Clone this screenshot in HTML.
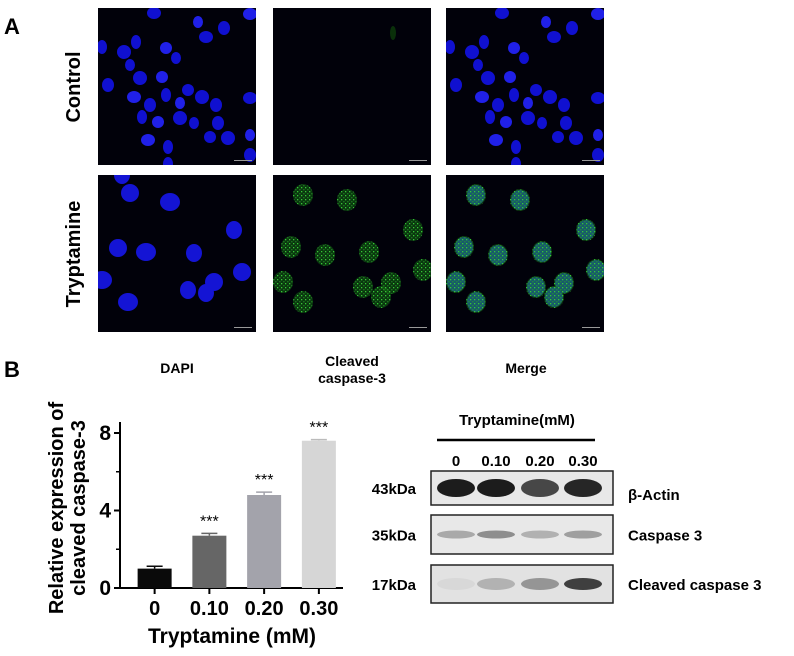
<!DOCTYPE html>
<html><head><meta charset="utf-8"><style>
html,body{margin:0;padding:0;background:#fff;}
body{width:794px;height:651px;overflow:hidden;position:relative;font-family:"Liberation Sans",Arial,sans-serif;}
svg text{font-family:"Liberation Sans",Arial,sans-serif;font-weight:bold;}
</style></head><body>
<svg id="fig" width="794" height="651" viewBox="0 0 794 651" xmlns="http://www.w3.org/2000/svg">
<defs>
<pattern id="speck" width="4" height="4" patternUnits="userSpaceOnUse">
<rect width="4" height="4" fill="rgba(20,110,20,0.5)"/>
<rect x="0" y="0" width="1.3" height="1.3" fill="#35c835"/>
<rect x="2.3" y="2.2" width="1.1" height="1.1" fill="#28a028"/>
</pattern>
</defs>
<text x="4" y="34" font-size="22">A</text>
<text x="4" y="377" font-size="22">B</text>
<text transform="translate(80,87) rotate(-90)" text-anchor="middle" font-size="20">Control</text>
<text transform="translate(80,254) rotate(-90)" text-anchor="middle" font-size="20">Tryptamine</text>
<g id="micro"></g>
<text x="177" y="373" text-anchor="middle" font-size="14">DAPI</text>
<text x="352" y="366" text-anchor="middle" font-size="14"><tspan x="352">Cleaved</tspan><tspan x="352" dy="17">caspase-3</tspan></text>
<text x="526" y="373" text-anchor="middle" font-size="14">Merge</text>
<g id="chart"></g>
<g id="blot"></g>
</svg>
<script>
// chart data
const categories = ["0", "0.10", "0.20", "0.30"];
const values = [1.0, 2.7, 4.8, 7.6];
const errors = [0.12, 0.12, 0.15, 0.06];
const barColors = ["#0a0a0a", "#666666", "#a3a3ab", "#d6d6d6"];
const yTicks = [0, 4, 8];
const stars = ["", "***", "***", "***"];

const NS = "http://www.w3.org/2000/svg";
function mk(tag, attrs, parent){const e=document.createElementNS(NS,tag);for(const k in attrs)e.setAttribute(k,attrs[k]);parent.appendChild(e);return e;}

// micrographs
const micro=document.getElementById('micro');
const cols=[98,273,446], rows=[8,175], pw=158, ph=157;
const ctrlNuc=[[100,14],[126,20],[108,29],[38,34],[68,40],[26,44],[32,57],[10,77],[36,89],[68,87],[90,82],[104,89],[82,95],[118,97],[152,90],[44,109],[60,114],[82,110],[96,115],[120,115],[50,132],[70,139],[112,129],[130,130],[152,127],[152,147],[56,5],[4,39],[64,69],[42,70],[78,50],[52,97],[152,6],[70,156]];
const tryNuc=[[24,0],[32,18],[72,27],[136,55],[20,73],[48,77],[96,78],[144,97],[4,105],[90,115],[116,107],[30,127],[108,118]];
const tryGreen=[[30,20],[74,25],[140,55],[18,72],[52,80],[96,77],[10,107],[90,112],[118,108],[108,122],[30,127],[150,95]];
rows.forEach((ry,ri)=>{cols.forEach((cx,ci)=>{
  const g=mk('g',{transform:`translate(${cx},${ry})`},micro);
  
  
  mk('rect',{x:0,y:0,width:pw,height:ph,fill:'#01010a'},g);
  const cp=mk('clipPath',{id:`c${ri}${ci}`},g);
  mk('rect',{x:0,y:0,width:pw,height:ph},cp);
  const inner=mk('g',{'clip-path':`url(#c${ri}${ci})`},g);
  if(ri===0){
    if(ci!==1) ctrlNuc.forEach((p,i)=>mk('ellipse',{cx:p[0],cy:p[1],rx:5+(i%3),ry:6+(i%2),fill:i%4?'#1010d0':'#2020e8'},inner));
    else mk('ellipse',{cx:120,cy:25,rx:3,ry:7,fill:'#0a300a'},inner);
  } else {
    if(ci===0) tryNuc.forEach((p,i)=>mk('ellipse',{cx:p[0],cy:p[1],rx:8+(i%3),ry:9,fill:'#1414d4'},inner));
    if(ci>=1) tryGreen.forEach((p,i)=>{
      if(ci===2) mk('ellipse',{cx:p[0],cy:p[1],rx:9,ry:10,fill:'#1a48c0'},inner);
      mk('ellipse',{cx:p[0],cy:p[1],rx:10,ry:11,fill:'url(#speck)'},inner);});
  }
  mk('rect',{x:pw-22,y:ph-5,width:18,height:1,fill:'#999'},g);
});});

// bar chart
const chart=document.getElementById('chart');
const x0=120,x1=343,yBase=588,yTop8=433;
const yScale=v=>yBase-(yBase-yTop8)*v/8;
const slotW=(x1-x0-10)/categories.length;
const xCenter=i=>x0+10+slotW*(i+0.5)+(i*1.5)-2;
mk('line',{x1:x0,y1:422,x2:x0,y2:yBase,stroke:'#000','stroke-width':2},chart);
mk('line',{x1:x0,y1:yBase,x2:x1,y2:yBase,stroke:'#000','stroke-width':2},chart);
yTicks.forEach(t=>{
  const y=yScale(t);
  mk('line',{x1:x0-6,y1:y,x2:x0,y2:y,stroke:'#000','stroke-width':2},chart);
  const tx=mk('text',{x:x0-9,y:y+7,'text-anchor':'end','font-size':21},chart);tx.textContent=t;
  
  
});
[2,6].forEach(t=>{const y=yScale(t);mk('line',{x1:x0-4,y1:y,x2:x0,y2:y,stroke:'#000','stroke-width':1.5},chart);});
categories.forEach((c,i)=>{
  const cx=xCenter(i),w=34;
  const r=mk('rect',{x:cx-w/2,y:yScale(values[i]),width:w,height:yBase-yScale(values[i]),fill:barColors[i]},chart);
  
  
  const ye=yScale(values[i]+errors[i]);
  mk('line',{x1:cx,y1:ye,x2:cx,y2:yScale(values[i]),stroke:barColors[i],'stroke-width':1.5},chart);
  mk('line',{x1:cx-8,y1:ye,x2:cx+8,y2:ye,stroke:barColors[i]==='#d6d6d6'?'#bbb':barColors[i],'stroke-width':1.5},chart);
  mk('line',{x1:cx,y1:yBase,x2:cx,y2:yBase+6,stroke:'#000','stroke-width':2},chart);
  if(stars[i]){const s=mk('text',{x:cx,y:ye-7,'text-anchor':'middle','font-size':16},chart);s.textContent=stars[i];s.style.fontWeight='normal';
    
    }
  const l=mk('text',{x:cx,y:615,'text-anchor':'middle','font-size':20},chart);l.textContent=c;
  
  
});
const xt=mk('text',{x:232,y:643,'text-anchor':'middle','font-size':21},chart);xt.textContent='Tryptamine (mM)';


const yt=mk('text',{transform:'translate(63,508) rotate(-90)','text-anchor':'middle','font-size':20},chart);


const t1=mk('tspan',{x:0,y:0},yt);t1.textContent='Relative expression of';
const t2=mk('tspan',{x:0,y:22},yt);t2.textContent='cleaved caspase-3';

// western blot
const blot=document.getElementById('blot');
const lanes=["0","0.10","0.20","0.30"];
const laneX=[456,496,540,583];
const tt=mk('text',{x:517,y:425,'text-anchor':'middle','font-size':15},blot);tt.textContent='Tryptamine(mM)';


mk('line',{x1:437,y1:440,x2:595,y2:440,stroke:'#000','stroke-width':2.5},blot);
lanes.forEach((l,i)=>{const t=mk('text',{x:laneX[i],y:466,'text-anchor':'middle','font-size':15},blot);t.textContent=l;
  
  });
const boxes=[[471,505,'43kDa','β-Actin',[0.95,0.95,0.75,0.9],9,'#111'],[515,554,'35kDa','Caspase 3',[0.35,0.5,0.3,0.4],4,'#333'],[565,603,'17kDa','Cleaved caspase 3',[0.05,0.25,0.4,0.85],6,'#222']];
boxes.forEach((b,bi)=>{
  const g=mk('g',{},blot);
  
  
  mk('rect',{x:431,y:b[0],width:182,height:b[1]-b[0],fill:bi===2?'#e2e2e2':'#e8e8e8',stroke:'#222','stroke-width':1.5},g);
  const cy=bi===0?(b[0]+17):(b[0]+b[1])/2;
  laneX.forEach((x,i)=>{
    mk('ellipse',{cx:x,cy:cy,rx:19,ry:b[5],fill:b[6],opacity:b[4][i]},g);
  });
  const k=mk('text',{x:416,y:(b[0]+b[1])/2+6,'text-anchor':'end','font-size':15},g);k.textContent=b[2];
  const n=mk('text',{x:628,y:(b[0]+b[1])/2+(bi===0?12:6),'font-size':15},g);n.textContent=b[3];
});
</script>
</body></html>
